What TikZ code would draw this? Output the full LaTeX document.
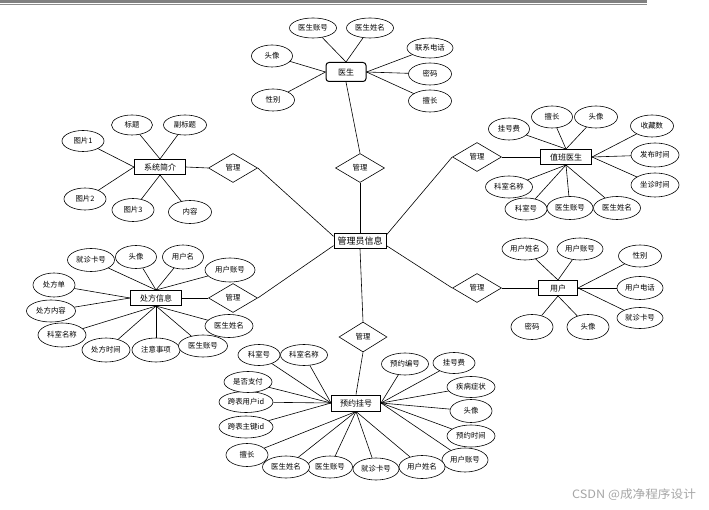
\documentclass[tikz,border=0pt]{standalone}
\usepackage{fontspec}
\setmainfont{Noto Sans CJK SC}
\usetikzlibrary{shapes.geometric}
\begin{document}
\begin{tikzpicture}[x=1pt,y=-1pt,
 attr/.style={ellipse,draw,line width=0.6pt,fill=white,inner sep=0pt,minimum width=45pt,minimum height=22pt,font=\fontsize{7.4}{8}\selectfont},
 ent/.style={rectangle,draw,line width=1pt,fill=white,inner sep=0pt,minimum width=51pt,minimum height=15pt,font=\fontsize{8}{9}\selectfont},
 rel/.style={diamond,draw,line width=0.6pt,fill=white,inner sep=0pt,minimum width=49pt,minimum height=29pt,font=\fontsize{7.4}{8}\selectfont},
 ln/.style={line width=0.6pt}]
\useasboundingbox (0,0) rectangle (709,510);
\fill[white] (0,0) rectangle (709,510);
% top rule
\fill[black!50] (0,0) rectangle (647,3);
\draw[black!45,line width=1pt] (0,4.3) -- (647,4.3);

% central
\node[ent,minimum width=52pt,font=\fontsize{9}{10}\selectfont] (admin) at (360,241) {管理员信息};

% doctor
\node[ent,rounded corners=3pt,minimum width=40pt,minimum height=19pt] (doc) at (346,72) {医生};
\node[attr,minimum width=47pt,minimum height=20pt] (d1) at (313,28) {医生账号};
\node[attr,minimum width=47pt,minimum height=20pt] (d2) at (370,28) {医生姓名};
\node[attr,minimum width=46pt,minimum height=20pt] (d3) at (430,48) {联系电话};
\node[attr,minimum width=41pt] (d4) at (272,56) {头像};
\node[attr,minimum width=43pt] (d5) at (430,74) {密码};
\node[attr,minimum width=43pt] (d6) at (430,101) {擅长};
\node[attr,minimum width=43pt] (d7) at (273,100) {性别};
\node[rel] (relT) at (360,168) {管理};
\node[rel,minimum width=48pt,minimum height=30pt] (relB) at (363,337) {管理};

% system intro
\node[ent] (sys) at (160,167) {系统简介};
\node[rel] (relUL) at (233,168) {管理};
\node[attr,minimum width=41pt,minimum height=20pt] (s1) at (132,125) {标题};
\node[attr,minimum width=43pt,minimum height=20pt] (s2) at (185,125) {副标题};
\node[attr,minimum width=42pt,minimum height=21pt] (s3) at (83,141) {图片1};
\node[attr,minimum width=42pt,minimum height=22pt] (s4) at (85,199) {图片2};
\node[attr,minimum width=42pt,minimum height=23pt] (s5) at (133,210) {图片3};
\node[attr,minimum width=43pt,minimum height=23pt] (s6) at (190,212) {内容};

% duty doctor
\node[ent] (duty) at (566,157) {值班医生};
\node[rel] (relUR) at (477,157) {管理};
\node[attr,minimum width=41pt] (v1) at (509,129) {挂号费};
\node[attr,minimum width=41pt] (v2) at (552,117) {擅长};
\node[attr,minimum width=43pt] (v3) at (596,117) {头像};
\node[attr,minimum width=43pt] (v4) at (652,126) {收藏数};
\node[attr,minimum width=48pt,minimum height=24pt] (v5) at (655,155) {发布时间};
\node[attr,minimum width=48pt,minimum height=24pt] (v6) at (655,185) {坐诊时间};
\node[attr,minimum width=47pt] (v7) at (509,187) {科室名称};
\node[attr,minimum width=42pt] (v8) at (526,209) {科室号};
\node[attr,minimum width=46pt,minimum height=23pt] (v9) at (570,208) {医生账号};
\node[attr,minimum width=47pt,minimum height=23pt] (v10) at (617,208) {医生姓名};

% prescription
\node[ent] (pre) at (156,298) {处方信息};
\node[rel] (relLL) at (233,298) {管理};
\node[attr,minimum width=47pt,minimum height=23pt] (p1) at (91,260) {就诊卡号};
\node[attr,minimum width=41pt,minimum height=23pt] (p2) at (136,257) {头像};
\node[attr,minimum width=41pt,minimum height=24pt] (p3) at (183,257) {用户名};
\node[attr,minimum width=50pt,minimum height=24pt] (p4) at (230,270) {用户账号};
\node[attr,minimum width=42pt,minimum height=24pt] (p5) at (54,285) {处方单};
\node[attr,minimum width=49pt] (p6) at (51,311) {处方内容};
\node[attr,minimum width=48pt,minimum height=24pt] (p7) at (62,335) {科室名称};
\node[attr,minimum width=48pt,minimum height=24pt] (p8) at (106,350) {处方时间};
\node[attr,minimum width=48pt,minimum height=24pt] (p9) at (156,350) {注意事项};
\node[attr,minimum width=48pt,minimum height=23pt] (p11) at (229,326) {医生姓名};
\node[attr,minimum width=49pt] (p10) at (203,346) {医生账号};

% user
\node[ent,minimum width=39pt] (user) at (558,288) {用户};
\node[rel] (relLR) at (477,288) {管理};
\node[attr,minimum width=46pt] (u1) at (525,249) {用户姓名};
\node[attr,minimum width=46pt] (u2) at (580,249) {用户账号};
\node[attr,minimum width=43pt] (u3) at (640,256) {性别};
\node[attr,minimum width=46pt,minimum height=23pt] (u4) at (640,288) {用户电话};
\node[attr,minimum width=46pt,minimum height=21pt] (u5) at (640,318) {就诊卡号};
\node[attr,minimum width=42pt,minimum height=25pt] (u6) at (532,327) {密码};
\node[attr,minimum width=42pt,minimum height=25pt] (u7) at (588,327) {头像};

% appointment
\node[ent,minimum width=49pt,minimum height=16pt] (reg) at (356,403) {预约挂号};
\node[attr,minimum width=42pt,minimum height=21pt] (r1) at (259,355) {科室号};
\node[attr,minimum width=47pt,minimum height=21pt] (r2) at (304,355) {科室名称};
\node[attr,minimum width=47pt] (r3) at (405,364) {预约编号};
\node[attr,minimum width=42pt,minimum height=21pt] (r4) at (454,363) {挂号费};
\node[attr,minimum width=48pt,minimum height=21pt] (r5) at (471,387) {疾病症状};
\node[attr,minimum width=42pt,minimum height=23pt] (r6) at (471,411) {头像};
\node[attr,minimum width=48pt] (r7) at (471,436) {预约时间};
\node[attr,minimum width=46pt,minimum height=24pt] (r8) at (465,460) {用户账号};
\node[attr,minimum width=46pt,minimum height=23pt] (r9) at (422,467) {用户姓名};
\node[attr,minimum width=46pt] (r10) at (376,469) {就诊卡号};
\node[attr,minimum width=45pt] (r11) at (330,467) {医生账号};
\node[attr,minimum width=47pt] (r12) at (286,467) {医生姓名};
\node[attr,minimum width=42pt,minimum height=23pt] (r13) at (247,455) {擅长};
\node[attr,minimum width=54pt] (r14) at (246,427) {跨表主键id};
\node[attr,minimum width=54pt,minimum height=21pt] (r15) at (246,402) {跨表用户id};
\node[attr,minimum width=48pt,minimum height=21pt] (r16) at (248,382) {是否支付};

% watermark
\node[text=black!35,font=\fontsize{11.5}{12}\selectfont,inner sep=0pt] (wm) at (634,495) {\scalebox{1.1}[1]{CSDN @成净程序设计}};

% edges
\begin{scope}[ln]
\draw (d1) -- (doc.north); \draw (d2) -- (doc.north);
\draw (d4) -- (doc.west); \draw (d7) -- (doc.west);
\draw (d3) -- (doc.east); \draw (d5) -- (doc.east); \draw (d6) -- (doc.east);
\draw (relT.north) -- (doc.south); \draw (relT.south) -- (admin.north);
\draw (relB.north) -- (admin.south); \draw (relB.south) -- (reg.north);

\draw (s1) -- (sys.north); \draw (s2) -- (sys.north);
\draw (s3) -- (sys.west); \draw (s4) -- (sys.west);
\draw (s5) -- (sys.south); \draw (s6) -- (sys.south);
\draw (sys.east) -- (relUL.west); \draw (relUL.east) -- (admin.170);

\draw (v1) -- (duty.north); \draw (v2) -- (duty.north); \draw (v3) -- (duty.north);
\draw (v4) -- (duty.east); \draw (v5) -- (duty.east); \draw (v6) -- (duty.east);
\draw (v7) -- (duty.south); \draw (v8) -- (duty.south); \draw (v9) -- (duty.south); \draw (v10) -- (duty.south);
\draw (duty.west) -- (relUR.east); \draw (relUR.west) -- (admin.13);

\draw (p1) -- (pre.north); \draw (p2) -- (pre.north); \draw (p3) -- (pre.north); \draw (p4) -- (pre.north);
\draw (p5) -- (pre.west); \draw (p6) -- (pre.west);
\draw (p7) -- (pre.south); \draw (p8) -- (pre.south); \draw (p9) -- (pre.south); \draw (p10) -- (pre.south); \draw (p11) -- (pre.south);
\draw (pre.east) -- (relLL.west); \draw (relLL.east) -- (admin.190);

\draw (u1) -- (user.north); \draw (u2) -- (user.north);
\draw (u3) -- (user.east); \draw (u4) -- (user.east); \draw (u5) -- (user.east);
\draw (u6) -- (user.south); \draw (u7) -- (user.south);
\draw (user.west) -- (relLR.east); \draw (relLR.west) -- (admin.-10);

\draw (r1) -- (reg.west); \draw (r2) -- (reg.west); \draw (r16) -- (reg.west); \draw (r15) -- (reg.west); \draw (r14) -- (reg.west);
\draw (r3) -- (reg.east); \draw (r4) -- (reg.east); \draw (r5) -- (reg.east); \draw (r6) -- (reg.east); \draw (r7) -- (reg.east); \draw (r8) -- (reg.east);
\draw (r9) -- (reg.south); \draw (r10) -- (reg.south); \draw (r11) -- (reg.south); \draw (r12) -- (reg.south); \draw (r13) -- (reg.south);
\end{scope}
\end{tikzpicture}
\end{document}
